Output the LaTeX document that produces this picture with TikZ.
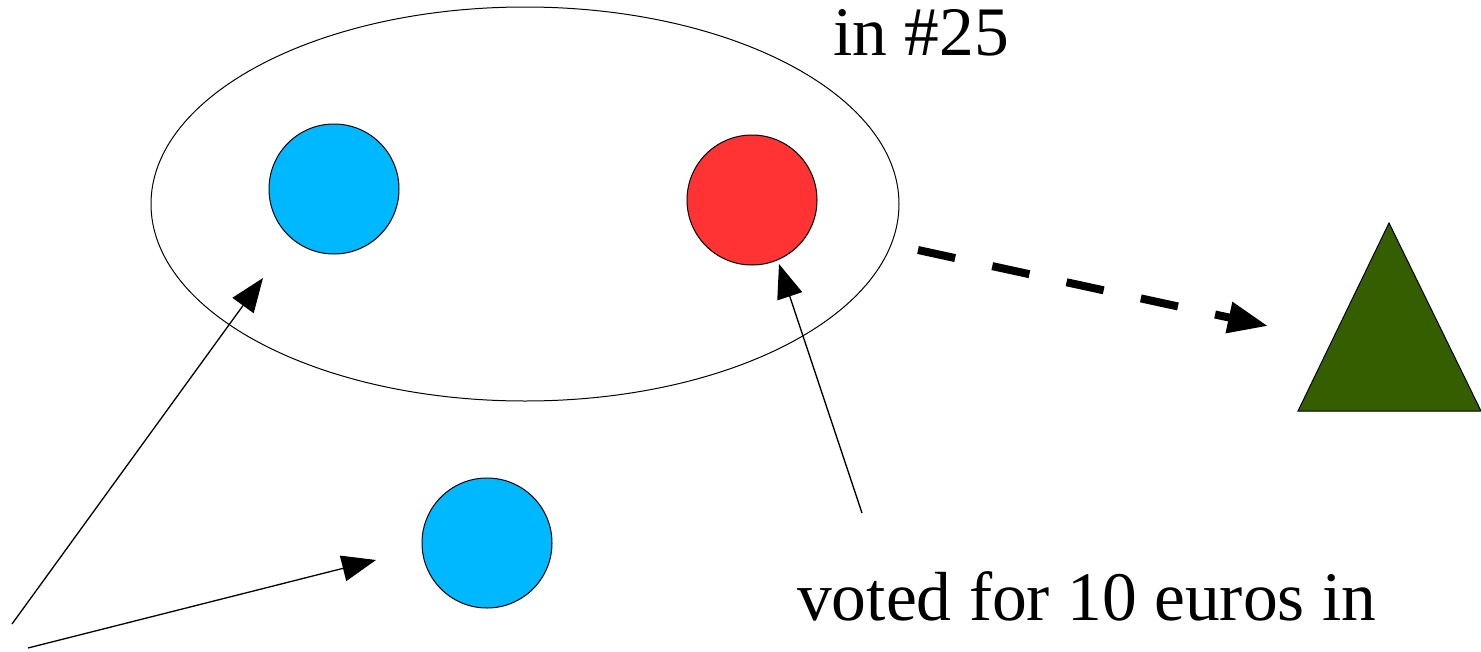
\documentclass[tikz,border=0pt]{standalone}
\usepackage{fontspec}
\setmainfont{Liberation Serif}
\usetikzlibrary{shapes.geometric,arrows.meta}
\definecolor{dotblue}{RGB}{0,184,255}
\definecolor{dotred}{RGB}{255,51,51}
\definecolor{darkgreen}{RGB}{53,94,0}
\tikzset{
  member/.style={circle, draw=black, line width=1pt, minimum size=130pt, inner sep=0pt},
  pointer/.style={line width=1.3pt, -{Triangle[length=34pt,width=26pt]}},
  bigdash/.style={line width=8pt, dash pattern=on 38pt off 38pt, -{Triangle[length=40pt,width=30pt]}},
  label/.style={font=\fontsize{69.5}{76}\selectfont, inner sep=0pt, anchor=base west}
}
\begin{document}
\begin{tikzpicture}[x=1pt,y=-1pt]
  \useasboundingbox (0,0) rectangle (1481,651);

  % the group
  \node[ellipse, draw=black, line width=1pt, minimum width=748pt, minimum height=394pt, inner sep=0pt] (group) at (525,204) {};

  % members
  \node[member, fill=dotblue] (blueA) at (334,189) {};
  \node[member, fill=dotred] (redA) at (752,200) {};
  \node[member, fill=dotblue] (blueB) at (487,543) {};

  % target
  \coordinate (triTop) at (1389,223);
  \coordinate (triL) at (1298,411);
  \coordinate (triR) at (1481,411);
  \filldraw[fill=darkgreen, draw=black, line width=1pt] (triTop) -- (triR) -- (triL) -- cycle;

  % labels
  \node[label] (title) at (833,55) {in \#25};
  \node[label] (vote) at (797,620) {voted for 10 euros in};

  % arrows
  \coordinate (srcA) at (12,624);
  \coordinate (tipA) at (263,278);
  \coordinate (srcB) at (28,648);
  \coordinate (tipB) at (376,560);
  \coordinate (srcC) at (862,513);
  \coordinate (tipC) at (779,264);
  \coordinate (dashStart) at (918,250);
  \coordinate (dashEnd) at (1268,326);

  \draw[pointer] (srcA) -- (tipA);
  \draw[pointer] (srcB) -- (tipB);
  \draw[pointer] (srcC) -- (tipC);
  \draw[bigdash] (dashStart) -- (dashEnd);
\end{tikzpicture}
\end{document}
